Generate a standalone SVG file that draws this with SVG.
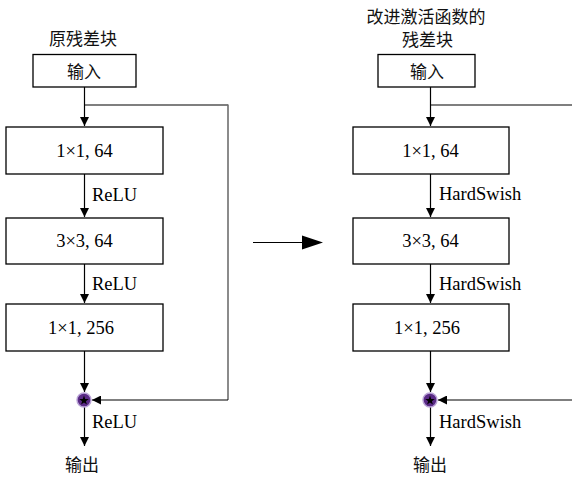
<svg xmlns="http://www.w3.org/2000/svg" width="572" height="478" viewBox="0 0 572 478">
<style>
.box{fill:#fff;stroke:#000;stroke-width:1.3}
.ln{fill:none;stroke:#000;stroke-width:1.2}
.gl{fill:none;stroke:#6e6e6e;stroke-width:1.6}
.t{font-family:"Liberation Serif","Times New Roman",serif;font-size:18.5px;fill:#000}
.c{font-family:"Liberation Serif","Noto Sans CJK SC",serif;font-size:17px;fill:#111}
.m{text-anchor:middle}
.sum{fill:#5a2a86;stroke:#b9a3d6;stroke-width:1.4}
</style>
<defs>
<marker id="ah" viewBox="0 0 10 10" refX="10" refY="5" markerWidth="10" markerHeight="9" markerUnits="userSpaceOnUse" orient="auto">
<path d="M0,0 L10,5 L0,10 Z" fill="#000"/>
</marker>
<g id="star">
<path d="M0,-5 L1.2,-1.6 L4.8,-1.5 L1.9,0.7 L2.9,4.1 L0,2.1 L-2.9,4.1 L-1.9,0.7 L-4.8,-1.5 L-1.2,-1.6 Z" fill="#000"/>
</g>
</defs>

<g id="connectors">
<!-- left -->
<path class="ln" d="M84.5,87 V126" marker-end="url(#ah)"/>
<path class="ln" d="M84.5,105 H228"/>
<path class="gl" d="M228,104.5 V400"/>
<path class="ln" d="M228,400 H92" marker-end="url(#ah)"/>
<path class="ln" d="M84.5,174 V217" marker-end="url(#ah)"/>
<path class="ln" d="M84.5,264 V303" marker-end="url(#ah)"/>
<path class="ln" d="M84.5,351 V392" marker-end="url(#ah)"/>
<path class="ln" d="M84.5,407 V446" marker-end="url(#ah)"/>
<!-- right -->
<path class="ln" d="M430.5,87 V126" marker-end="url(#ah)"/>
<path class="ln" d="M430.5,105 H572"/>
<path class="ln" d="M572,400 H438" marker-end="url(#ah)"/>
<path class="ln" d="M430.5,174 V217" marker-end="url(#ah)"/>
<path class="ln" d="M430.5,264 V303" marker-end="url(#ah)"/>
<path class="ln" d="M430.5,351 V392" marker-end="url(#ah)"/>
<path class="ln" d="M430.5,407 V446" marker-end="url(#ah)"/>
<!-- middle -->
<path class="ln" d="M253,242.5 H303"/>
<path d="M302,235.5 L323,242.5 L302,249.5 Z" fill="#000"/>
</g>

<g id="labels">
<text class="t" x="92" y="201">ReLU</text>
<text class="t" x="92" y="290">ReLU</text>
<text class="t" x="92" y="428">ReLU</text>
<text class="t" x="439" y="200">HardSwish</text>
<text class="t" x="439" y="290">HardSwish</text>
<text class="t" x="439" y="428">HardSwish</text>
</g>

<g id="title-left"><text class="c m" x="83" y="45">原残差块</text></g>
<g id="title-right">
<text class="c m" x="426" y="23">改进激活函数的</text>
<text class="c m" x="427.5" y="46">残差块</text>
</g>

<g id="in-left"><rect class="box" x="33" y="54.5" width="103" height="32.5"/><text class="c m" x="84" y="78">输入</text></g>
<g id="b1-left"><rect class="box" x="6" y="127" width="157" height="47"/><text class="t m" x="84.5" y="157">1×1, 64</text></g>
<g id="b2-left"><rect class="box" x="6" y="218" width="157" height="46"/><text class="t m" x="84.5" y="247">3×3, 64</text></g>
<g id="b3-left"><rect class="box" x="6" y="304" width="157" height="47"/><text class="t m" x="81" y="334">1×1, 256</text></g>
<g id="sum-left"><circle class="sum" cx="84" cy="400" r="7"/><use href="#star" x="84" y="400.5"/></g>
<g id="out-left"><text class="c m" x="82" y="471">输出</text></g>

<g id="in-right"><rect class="box" x="378" y="54.5" width="97" height="32.5"/><text class="c m" x="427" y="78">输入</text></g>
<g id="b1-right"><rect class="box" x="353" y="127" width="156" height="47"/><text class="t m" x="430.5" y="157">1×1, 64</text></g>
<g id="b2-right"><rect class="box" x="353" y="218" width="156" height="46"/><text class="t m" x="430.5" y="247">3×3, 64</text></g>
<g id="b3-right"><rect class="box" x="353" y="304" width="156" height="47"/><text class="t m" x="427" y="334">1×1, 256</text></g>
<g id="sum-right"><circle class="sum" cx="430" cy="400" r="7"/><use href="#star" x="430" y="400.5"/></g>
<g id="out-right"><text class="c m" x="430" y="471">输出</text></g>
</svg>
